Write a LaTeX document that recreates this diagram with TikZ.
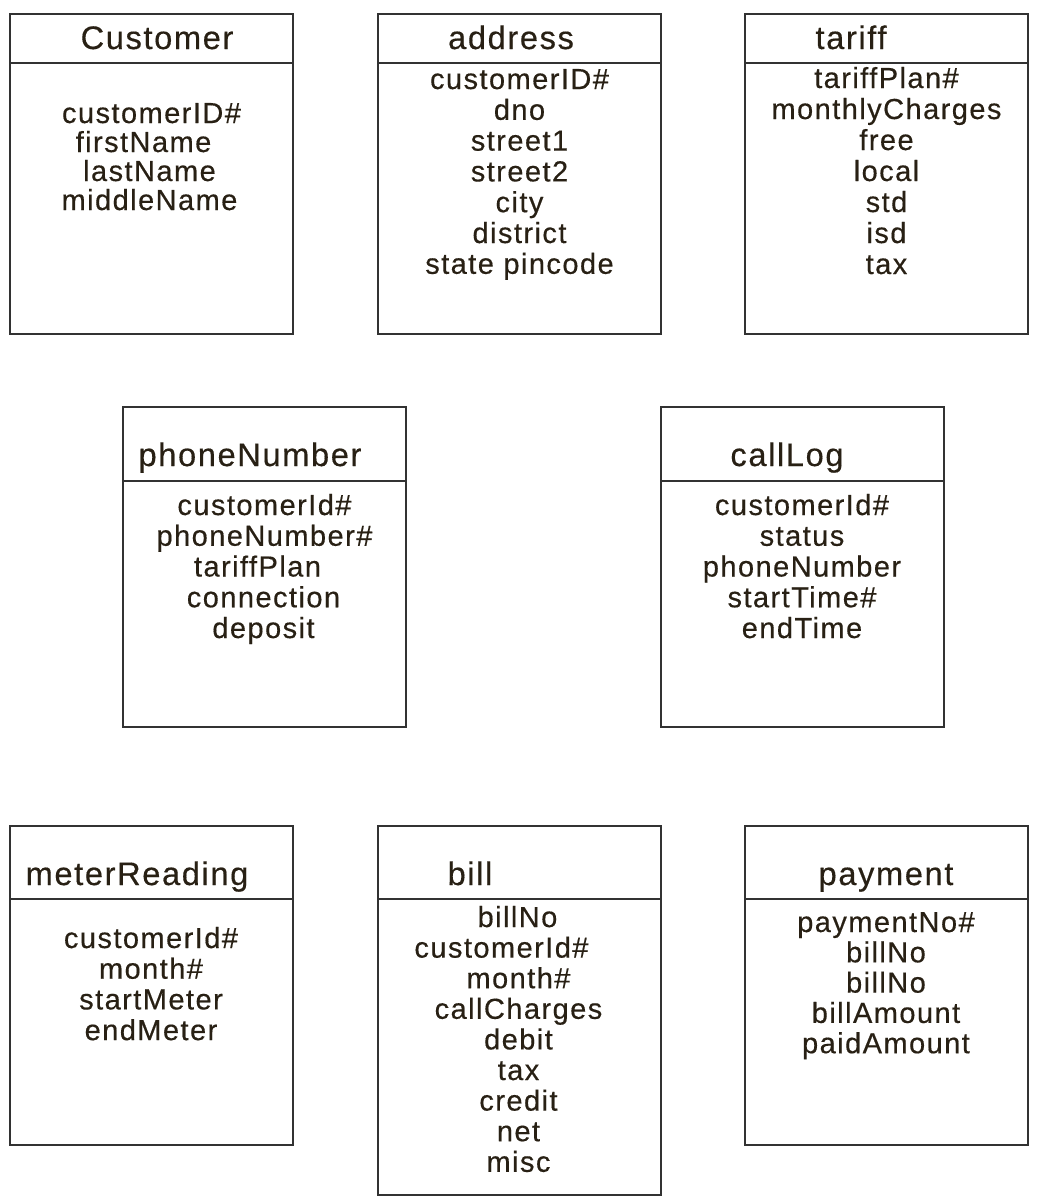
\documentclass[tikz,border=0pt]{standalone}
\usepackage{fontspec}
\setmainfont{Liberation Sans}[LetterSpace=5,FakeBold=0.4]
\definecolor{inkbrown}{RGB}{40,32,20}
\definecolor{framegray}{RGB}{50,50,50}
\tikzset{
    entity/.style ={
        draw=framegray,
        line width=1pt
    },
    title/.style ={
        font=\fontsize{16.3}{18}\selectfont,
        text=inkbrown,
        anchor=base,
        inner sep=0pt
    },
    attr/.style ={
        font=\fontsize{14.5}{16}\selectfont,
        text=inkbrown,
        anchor=base,
        inner sep=0pt
    }
}

\begin{document}
\begin{tikzpicture}[x=0.5pt,y=-0.5pt]
    \useasboundingbox (0,0) rectangle (1052,1200);
    % table frames with header rule
    \draw[entity] (10,14) rectangle (293,334) (10,63) -- (293,63);
    \draw[entity] (378,14) rectangle (661,334) (378,63) -- (661,63);
    \draw[entity] (745,14) rectangle (1028,334) (745,63) -- (1028,63);
    \draw[entity] (123,407) rectangle (406,727) (123,481) -- (406,481);
    \draw[entity] (661,407) rectangle (944,727) (661,481) -- (944,481);
    \draw[entity] (10,826) rectangle (293,1145) (10,899) -- (293,899);
    \draw[entity] (378,826) rectangle (661,1195) (378,899) -- (661,899);
    \draw[entity] (745,826) rectangle (1028,1145) (745,899) -- (1028,899);
    % table names
    \node[title] (customer) at (157,49) {Customer};
    \node[title] (address) at (511,49) {address};
    \node[title] (tariff) at (851,49) {tariff};
    \node[title] (phone) at (250,466) {phoneNumber};
    \node[title] (calllog) at (787,466) {callLog};
    \node[title] (meter) at (137,885) {meterReading};
    \node[title] (bill) at (470,885) {bill};
    \node[title] (payment) at (886,885) {payment};
    % attributes
    \foreach \a/\dx [count=\i from 0] in {customerID\#/0, firstName/-8, lastName/-2, middleName/-2}
        \node[attr] (customer-\i) at ({151.5+\dx},{123+29*\i}) {\a};
    \foreach \a [count=\i from 0] in {customerID\#, dno, street1, street2, city, district, state pincode}
        \node[attr] (address-\i) at (519.5,{89+30.8*\i}) {\a};
    \foreach \a [count=\i from 0] in {tariffPlan\#, monthlyCharges, free, local, std, isd, tax}
        \node[attr] (tariff-\i) at (886.5,{88+31*\i}) {\a};
    \foreach \a/\dx [count=\i from 0] in {customerId\#/0, phoneNumber\#/0, tariffPlan/-7, connection/-1, deposit/-1}
        \node[attr] (phone-\i) at ({264.5+\dx},{515+30.75*\i}) {\a};
    \foreach \a [count=\i from 0] in {customerId\#, status, phoneNumber, startTime\#, endTime}
        \node[attr] (calllog-\i) at (802,{515+30.75*\i}) {\a};
    \foreach \a [count=\i from 0] in {customerId\#, month\#, startMeter, endMeter}
        \node[attr] (meter-\i) at (151,{948+30.7*\i}) {\a};
    \foreach \a/\dx [count=\i from 0] in {billNo/-2, customerId\#/-18, month\#/-1, callCharges/-1, debit/-1, tax/-1, credit/-1, net/-1, misc/-1}
        \node[attr] (bill-\i) at ({519.5+\dx},{927+30.6*\i}) {\a};
    \foreach \a [count=\i from 0] in {paymentNo\#, billNo, billNo, billAmount, paidAmount}
        \node[attr] (payment-\i) at (886,{932+30.3*\i}) {\a};
\end{tikzpicture}
\end{document}
